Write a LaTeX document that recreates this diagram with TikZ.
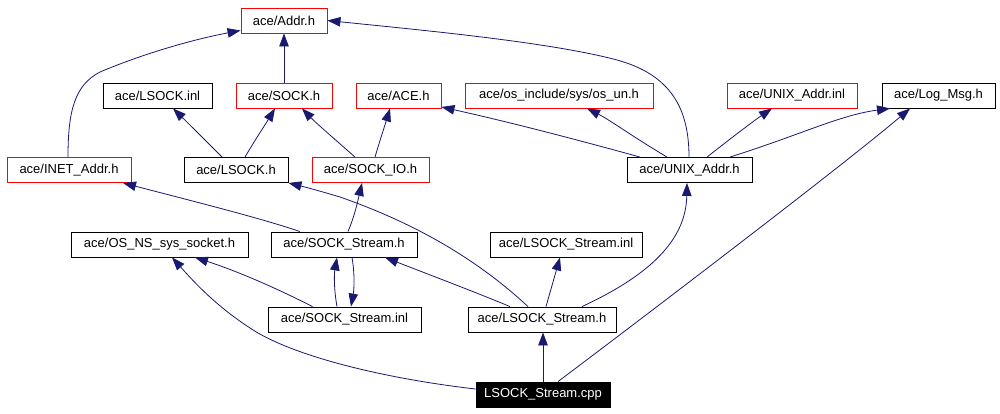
\documentclass[tikz,border=0pt]{standalone}
\usepackage{fontspec}
\setmainfont{Liberation Sans}
\usetikzlibrary{arrows.meta}
\definecolor{edgeblue}{HTML}{191970}
\tikzset{
  box/.style={draw=black, line width=0.9pt, minimum height=25pt, inner sep=0pt, font=\fontsize{13}{15}\selectfont},
  redbox/.style={box, draw=red},
  mainbox/.style={box, fill=black, text=white},
  edge/.style={draw=edgeblue, line width=0.8pt, -{Triangle[length=13pt,width=9.5pt]}},
}
\begin{document}
\begin{tikzpicture}[x=1pt,y=-1pt]
\useasboundingbox (0,0) rectangle (1000,413);
% row 1
\node[redbox, minimum width=86pt] (addr) at (284,20.5) {ace/Addr.h};
% row 2
\node[box, minimum width=109pt] (lsockinl) at (157.5,95.5) {ace/LSOCK.inl};
\node[redbox, minimum width=96pt] (sockh) at (284,95.5) {ace/SOCK.h};
\node[redbox, minimum width=85pt] (ace) at (398.5,95.5) {ace/ACE.h};
\node[redbox, minimum width=188pt] (osun) at (559,95.5) {ace/os\_include/sys/os\_un.h};
\node[redbox, minimum width=130pt] (unixinl) at (792,95.5) {ace/UNIX\_Addr.inl};
\node[box, minimum width=113pt] (logmsg) at (938.5,95.5) {ace/Log\_Msg.h};
% row 3
\node[redbox, minimum width=124pt] (inet) at (69,170) {ace/INET\_Addr.h};
\node[box, minimum width=104pt] (lsockh) at (236,170) {ace/LSOCK.h};
\node[redbox, minimum width=117pt] (sockio) at (370.5,170) {ace/SOCK\_IO.h};
\node[box, minimum width=125pt] (unixh) at (689.5,170) {ace/UNIX\_Addr.h};
% row 4
\node[box, minimum width=177pt] (osns) at (159.5,244.5) {ace/OS\_NS\_sys\_socket.h};
\node[box, minimum width=146pt] (ssh) at (344,244.5) {ace/SOCK\_Stream.h};
\node[box, minimum width=152pt] (lsi) at (566,244.5) {ace/LSOCK\_Stream.inl};
% row 5
\node[box, minimum width=153pt] (ssi) at (344.5,319.5) {ace/SOCK\_Stream.inl};
\node[box, minimum width=148pt] (lsh) at (542,319.5) {ace/LSOCK\_Stream.h};
% row 6
\node[mainbox, minimum width=134pt] (cpp) at (543,394.5) {LSOCK\_Stream.cpp};

% edges from cpp
\draw[edge] ([yshift=5.5pt]cpp.west) .. controls (380,378) and (290,355) .. (250,328)
   .. controls (215,305) and (195,283) .. ([xshift=12.5pt]osns.south);
\draw[edge] ([xshift=0pt]cpp.north) -- ([xshift=1pt]lsh.south);
\draw[edge] ([xshift=15pt]cpp.north) .. controls (620,335) and (840,168) .. ([xshift=-28.5pt]logmsg.south);
% edges from LSOCK_Stream.h
\draw[edge] ([xshift=-32pt]lsh.north) .. controls (470,290) and (430,275) .. ([xshift=41pt]ssh.south);
\draw[edge] ([xshift=4pt]lsh.north) -- ([xshift=-6pt]lsi.south);
\draw[edge] ([xshift=40pt]lsh.north) .. controls (650,275) and (686,240) .. ([xshift=-2.5pt]unixh.south);
\draw[edge] ([xshift=-14pt]lsh.north) .. controls (480,262) and (420,225) .. (340,197)
   .. controls (320,191) and (305,187) .. (lsockh.south east);
% edges from SOCK_Stream.inl
\draw[edge] ([xshift=-32pt]ssi.north) .. controls (280,290) and (240,272) .. ([xshift=35.5pt]osns.south);
\draw[edge] ([xshift=-7.5pt]ssi.north) .. controls (334,290) and (334,275) .. ([xshift=-7pt]ssh.south);
% edges from SOCK_Stream.h
\draw[edge] ([xshift=8pt]ssh.south) .. controls (355,275) and (354,290) .. ([xshift=6.5pt]ssi.north);
\draw[edge] ([xshift=-44pt]ssh.north) .. controls (260,218) and (200,203) .. ([xshift=54pt]inet.south);
\draw[edge] ([xshift=4pt]ssh.north) .. controls (355,215) and (358,200) .. ([xshift=-8.5pt]sockio.south);
% edges from SOCK_IO.h
\draw[edge] ([xshift=-15.5pt]sockio.north) .. controls (330,135) and (315,122) .. ([xshift=18pt]sockh.south);
\draw[edge] ([xshift=4.5pt]sockio.north) .. controls (380,140) and (385,125) .. ([xshift=-8.5pt]ace.south);
% edges from LSOCK.h
\draw[edge] ([xshift=-14pt]lsockh.north) .. controls (205,140) and (190,125) .. ([xshift=15.5pt]lsockinl.south);
\draw[edge] ([xshift=9pt]lsockh.north) .. controls (255,140) and (265,125) .. ([xshift=-9pt]sockh.south);
% SOCK.h
\draw[edge] (sockh.north) -- (addr.south);
% INET_Addr.h
\draw[edge] ([xshift=-1pt]inet.north) .. controls (68,110) and (75,85) .. (100,72)
   .. controls (140,55) and (190,40) .. ([yshift=-10pt]addr.west);
% UNIX_Addr.h
\draw[edge] ([xshift=-0.5pt]unixh.north) .. controls (689,110) and (672,75) .. (617,60)
   .. controls (550,42) and (420,30) .. (addr.east);
\draw[edge] ([xshift=-49.5pt]unixh.north) .. controls (560,135) and (500,120) .. ([yshift=1.5pt]ace.south east);
\draw[edge] ([xshift=-22.5pt]unixh.north) .. controls (630,135) and (610,120) .. ([xshift=28pt]osun.south);
\draw[edge] ([xshift=17.5pt]unixh.north) .. controls (735,135) and (755,120) .. ([xshift=-20pt]unixinl.south);
\draw[edge] ([xshift=40.5pt]unixh.north) .. controls (800,135) and (840,115) .. ([xshift=-48.5pt]logmsg.south);
\end{tikzpicture}
\end{document}
